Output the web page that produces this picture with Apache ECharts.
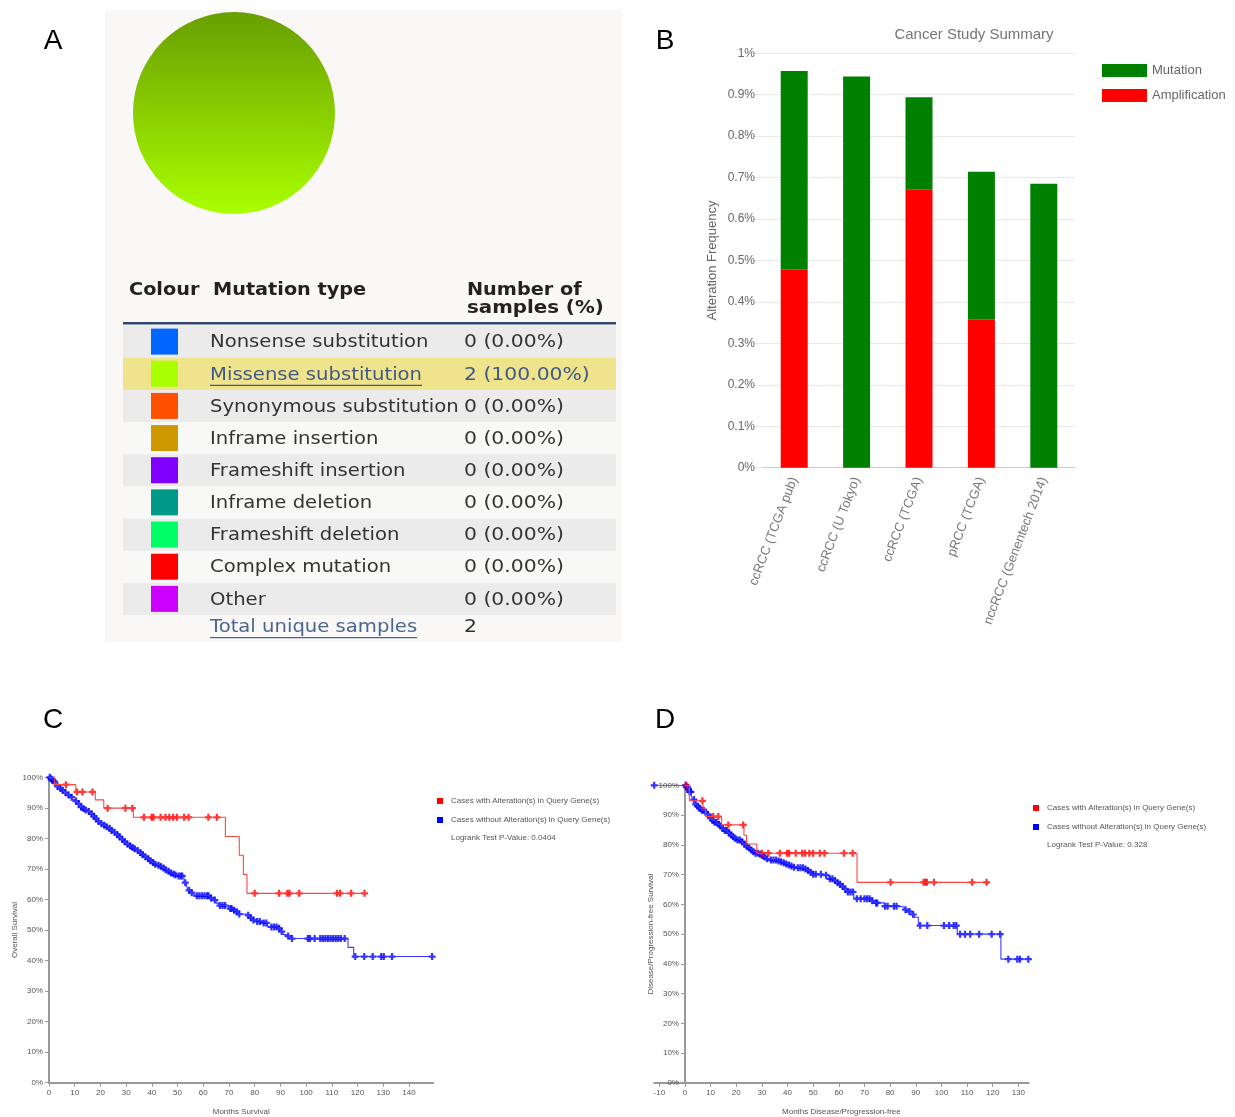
<!DOCTYPE html>
<html><head><meta charset="utf-8">
<script src="https://cdn.jsdelivr.net/npm/echarts@6/dist/echarts.min.js"></script>
<style>html,body{margin:0;padding:0;background:#fff}#c{width:1235px;height:1117px}</style>
</head><body><div id="c"></div>
<script>
// ---------------- Panel A data ----------------
const mutTypes = ['Nonsense substitution','Missense substitution','Synonymous substitution','Inframe insertion','Frameshift insertion','Inframe deletion','Frameshift deletion','Complex mutation','Other'];
const mutColours = ['#0066ff','#aaff00','#ff5000','#cc9900','#7f00ff','#009988','#00ff66','#ff0000','#cc00ff'];
const mutCounts = [0,2,0,0,0,0,0,0,0];
const highlightedType = 'Missense substitution';
const totalSamples = 2;

// ---------------- Panel B data ----------------
const studies = ['ccRCC (TCGA pub)','ccRCC (U Tokyo)','ccRCC (TCGA)','pRCC (TCGA)','nccRCC (Genentech 2014)'];
const amplificationPct = [0.479, 0, 0.672, 0.358, 0];
const mutationPct = [0.478, 0.944, 0.222, 0.356, 0.685];

// ---------------- Panel C data (Overall survival) ----------------
const osAltSteps = [[0,100],[2.2,97.6],[10.4,95.2],[18,92.6],[21.3,89.9],[32.8,86.9],[68.6,80.6],[74,74.5],[75.6,68.2],[77,62]];
const osAltCensor = [6.6,10.9,13,16.9,22.8,29.7,32.4,36.9,39.9,40.6,43.4,45.3,46.8,48.3,49.8,52.5,54.3,62,65.3,80,89.5,92.7,93.5,97.3,112,113.2,117.5,122.7];
const osUnaltSteps = [[0,100],[0.5,99.5],[1,99],[2,98.5],[2.5,97.8],[3,97],[4,96.3],[5,95.8],[6,95],[7,94.2],[8,93.5],[9,92.7],[10,92.2],[11,91.3],[12,90.2],[13,89.8],[14,89.3],[15,88.8],[16,88],[17,87.2],[18,86.5],[19,85.6],[20,84.8],[21,84.3],[22,83.8],[23,83.3],[24,82.6],[25,82],[26,81.2],[27,80.5],[28,79.7],[29,78.9],[30,78.2],[31,77.5],[32,77],[33,76.6],[34,76],[35,75.3],[36,74.6],[37,74],[38,73.3],[39,72.7],[40,72.1],[41,71.5],[42,71.2],[43,70.8],[44,70.3],[45,69.7],[46,69.2],[47,68.7],[48,68.3],[49,68],[50,67.7],[52.5,65.5],[53.5,64.5],[54,63],[55,62.2],[56,61.5],[57,61.2],[62.5,60.5],[63.5,59.8],[65,58.8],[66,58],[69,57.7],[70,57],[71.5,56.5],[72.5,56],[73.5,55.2],[77,54.8],[78,54],[79,53.3],[80,52.8],[83,52.3],[85,51],[89,50.6],[90,49.5],[91,48.5],[92,48],[94,47.2],[116.3,44.3],[118.5,41.3]];
const osUnaltCensor = [0.3,0.8,1.2,1.6,2.2,3.3,4.5,5.3,6.4,7.6,8.8,10.5,11.6,12.5,13.4,14.2,15.5,16.6,17.5,18.3,19.2,20.4,21.5,22.4,23.6,24.3,25.5,26.6,27.4,28.5,29.4,30.5,31.6,32.5,33.3,34.5,35.6,36.4,37.5,38.6,39.4,40.5,41.3,42.6,43.5,44.6,45.4,46.5,47.4,48.5,49.2,50.4,51.2,51.8,53,54.5,55.5,57.5,58.5,59.5,60.5,61.5,62,63,64.5,66.5,67.5,68.5,70.5,71,72,73,74,77.5,78.5,79.5,81,82,83.5,84.5,86.5,87.5,88.5,89.5,90.5,93,94.5,100.7,101.5,103.3,105.5,106.5,107.5,108.5,109.5,110.5,111.5,112.5,113.5,115,119.1,122.6,125.9,129.2,130.2,133.4,149];

// ---------------- Panel D data (Disease/Progression-free survival) ----------------
const dfsAltSteps = [[0,100],[1.7,94.8],[7,92.1],[8,89.5],[14.3,86.7],[23,83.2],[24,80.3],[28,77.2],[67.1,67.4]];
const dfsAltCensor = [0.5,6.8,11,13,16.9,22.7,30,32.5,37,39.8,40.6,43.2,45.7,46.8,48.5,50,52.6,54.4,62,65.4,80.2,93.1,93.8,94.3,97.1,112,117.6];
const dfsUnaltSteps = [[0,100],[0.6,99.4],[1.2,98.6],[1.8,97.8],[2.4,96.8],[3,95.2],[3.6,93.6],[4.5,93],[5.5,92.3],[6.5,91.6],[7.5,91],[8.5,90.2],[9.5,89],[10.5,88.2],[11.5,87.6],[12.5,86.9],[13.5,86.3],[14.5,85.6],[15.5,84.8],[16.5,84],[17.5,83.3],[18.5,82.7],[19.5,82.2],[20.5,81.6],[21.5,81],[22.5,80.2],[23.5,79.5],[24.5,78.9],[25.5,78.3],[26.5,77.7],[27.5,77.2],[28.5,76.8],[29.5,76.4],[30.5,75.9],[31.5,75.3],[32.5,74.9],[36,74.6],[37,74.3],[38.2,74],[39.2,73.6],[40.2,73.2],[41.5,72.9],[42.5,72.5],[43.5,72.3],[46.5,71.9],[47.5,71.4],[48.3,70.8],[49.2,70.1],[53.5,69.8],[55.5,69.2],[56.5,68.6],[57.8,68],[59,67.3],[60,66.8],[61,66],[62,65.2],[63,64.2],[65.8,61.9],[72.5,61.2],[74,60.5],[77.8,59.4],[83.5,59.1],[85.5,58.2],[87.5,57.6],[88.5,56.6],[89.5,55.7],[91,52.9],[106.2,50],[123.2,41.6]];
const dfsUnaltCensor = [-12,0.2,0.6,1,1.4,1.8,2.3,3.5,4.2,5,5.7,6.5,7.3,8,9,10,10.8,11.5,12.3,13.1,13.8,14.7,15.5,16.3,17.2,18,18.8,19.6,20.5,21.4,22.3,23.2,24.1,25,25.8,26.7,27.5,28.4,29.3,30.2,31,32,33.5,34.5,35.5,36.5,37.5,38.5,39.5,40.5,41.5,42.5,44,45,46,47,48,49,50,51,53,55,56.5,57.5,58.5,59.5,60.5,61.5,62.5,63.5,64.5,65.5,67,68.5,70,71,72,73,74.5,75,78,79,81.5,82.5,86,87.5,89,91.7,94.5,101,103,104.8,105.8,107.3,109.2,111.2,114.7,119.6,122.9,126.1,129.6,130.6,133.9];

const osPValue = '0.0404';
const dfsPValue = '0.328';
const altName = 'Cases with Alteration(s) in Query Gene(s)';
const unaltName = 'Cases without Alteration(s) in Query Gene(s)';
const monthTicksC = [0,10,20,30,40,50,60,70,80,90,100,110,120,130,140];
const monthTicksD = [-10,0,10,20,30,40,50,60,70,80,90,100,110,120,130];
const monthRangeC = [0, 149.5];
const monthRangeD = [-12, 134];

// ---------------- helpers ----------------
function kmCurve(steps, censor) {
  const survAt = t => { let s = steps[0][1]; for (const [x, y] of steps) { if (x <= t) s = y; else break; } return s; };
  const start = Math.min(steps[0][0], ...censor);
  const end = Math.max(steps[steps.length - 1][0], ...censor);
  const line = [];
  if (start < steps[0][0]) line.push([start, steps[0][1]]);
  steps.forEach(p => line.push(p));
  line.push([end, steps[steps.length - 1][1]]);
  return { line, marks: censor.map(t => [t, survAt(t)]) };
}
function shade(hex, f) {
  const n = parseInt(hex.slice(1), 16);
  const r = Math.round(((n >> 16) & 255) * f), g = Math.round(((n >> 8) & 255) * f), b = Math.round((n & 255) * f);
  return 'rgb(' + r + ',' + g + ',' + b + ')';
}
const measureCtx = document.createElement('canvas').getContext('2d');
function textWidth(str, font) { measureCtx.font = font; return measureCtx.measureText(str).width; }

const sansFont = '"Liberation Sans", Arial, sans-serif';
const tableFont = '"DejaVu Sans", Verdana, sans-serif';
const plusPath = 'path://M3.4,0H6.6V3.4H10V6.6H6.6V10H3.4V6.6H0V3.4H3.4Z';

const osAlt = kmCurve(osAltSteps, osAltCensor);
const osUnalt = kmCurve(osUnaltSteps, osUnaltCensor);
const dfsAlt = kmCurve(dfsAltSteps, dfsAltCensor);
const dfsUnalt = kmCurve(dfsUnaltSteps, dfsUnaltCensor);

// ---------------- Panel A table graphics ----------------
const graphics = [];
graphics.push({ type: 'rect', z: -5, shape: { x: 105, y: 10, width: 517, height: 632 }, style: { fill: '#f9f8f6' }, silent: true });
const hdrFont = 'bold 18px ' + tableFont;
const hdrScale = 1.07;
const addText = (x, y, text, font, fill, sx) => graphics.push({ type: 'text', z: 10, x, y, scaleX: sx || 1, style: { text, font, fill, textVerticalAlign: 'middle' } });
addText(129, 290, 'Colour', hdrFont, '#222', hdrScale);
addText(213, 290, 'Mutation type', hdrFont, '#222', hdrScale);
addText(467, 290, 'Number of', hdrFont, '#222', hdrScale);
addText(467, 308, 'samples (%)', hdrFont, '#222', 1.1);
graphics.push({ type: 'rect', z: 10, shape: { x: 123, y: 322, width: 493, height: 2.5 }, style: { fill: '#34476b' } });
const rowFont = '18px ' + tableFont;
const rowScale = 1.09;
const numScale = 1.13;
const rowH = 32.16;
mutTypes.forEach((name, i) => {
  const top = 325.6 + i * rowH;
  const hi = name === highlightedType;
  const bg = hi ? '#efe48c' : (i % 2 === 0 ? '#ebebeb' : '#f8f8f7');
  graphics.push({ type: 'rect', z: 1, shape: { x: 123, y: top, width: 493, height: rowH }, style: { fill: bg } });
  graphics.push({ type: 'rect', z: 2, shape: { x: 151, y: top + 3, width: 27, height: 26 }, style: { fill: mutColours[i] } });
  const cy = top + rowH / 2 + 1;
  const col = hi ? '#3f5a86' : '#333';
  addText(210, cy, name, rowFont, col, rowScale);
  const cnt = mutCounts[i] + ' (' + (mutCounts[i] / totalSamples * 100).toFixed(2) + '%)';
  addText(464, cy, cnt, rowFont, col, numScale);
  if (hi) {
    graphics.push({ type: 'rect', z: 10, shape: { x: 210, y: cy + 10, width: textWidth(name, rowFont) * rowScale, height: 1.2 }, style: { fill: col } });
  }
});
const totalLabel = 'Total unique samples';
addText(210, 627, totalLabel, rowFont, '#4a6590', rowScale);
graphics.push({ type: 'rect', z: 10, shape: { x: 210, y: 637, width: textWidth(totalLabel, rowFont) * rowScale, height: 1.2 }, style: { fill: '#4a6590' } });
addText(464, 627, String(totalSamples), rowFont, '#333', numScale);

// panel letters
[['A', 53, 41], ['B', 665, 41], ['C', 53, 720], ['D', 665, 720]].forEach(([t, x, y]) => {
  graphics.push({ type: 'text', z: 10, x, y, style: { text: t, font: '28px ' + sansFont, fill: '#000', textAlign: 'center', textVerticalAlign: 'middle' } });
});
// logrank texts
addText(451, 838, 'Logrank Test P-Value: ' + osPValue, '8px ' + sansFont, '#555');
addText(1047, 845, 'Logrank Test P-Value: ' + dfsPValue, '8px ' + sansFont, '#555');

// ---------------- axes helpers ----------------
const kmAxisLine = { lineStyle: { color: '#999', width: 2 } };
const kmLabel = { fontSize: 8, color: '#555', fontFamily: sansFont };
function kmXAxis(grid, range, ticks, name) {
  return {
    type: 'value', gridIndex: grid, min: range[0], max: range[1], name, nameLocation: 'middle', nameGap: 25,
    nameTextStyle: { fontSize: 8, color: '#555', fontFamily: sansFont },
    axisLine: kmAxisLine, splitLine: { show: false },
    axisTick: { length: 4, lineStyle: { color: '#999' }, customValues: ticks },
    axisLabel: Object.assign({ margin: 6, customValues: ticks }, kmLabel)
  };
}
function kmYAxis(grid, name, gap, offset) {
  return {
    type: 'value', gridIndex: grid, min: 0, max: 100, interval: 10, name, nameLocation: 'middle', nameGap: gap, offset,
    nameTextStyle: { fontSize: 8, color: '#555', fontFamily: sansFont },
    axisLine: Object.assign({ onZero: false }, kmAxisLine), splitLine: { show: false },
    axisTick: { length: 4, lineStyle: { color: '#999' } },
    axisLabel: Object.assign({ margin: 6, formatter: '{value}%' }, kmLabel)
  };
}
function kmSeries(name, curve, color, lineColor, ax) {
  return [
    { type: 'line', name, xAxisIndex: ax, yAxisIndex: ax, data: curve.line, step: 'end', showSymbol: false, symbol: 'none',
      lineStyle: { color: lineColor, width: 1.1 }, itemStyle: { color }, animation: false, silent: true },
    { type: 'scatter', name, xAxisIndex: ax, yAxisIndex: ax, data: curve.marks, symbol: plusPath, symbolSize: 7,
      itemStyle: { color }, animation: false, silent: true }
  ];
}
const gridD = { left: 654.2, top: 785.3, width: 374.4, height: 298 };
// y axis of panel D sits at month 0
const yOffsetD = -(0 - monthRangeD[0]) / (monthRangeD[1] - monthRangeD[0]) * gridD.width;

const option = {
  animation: false,
  backgroundColor: '#fff',
  title: { text: 'Cancer Study Summary', left: 969, top: 22, textAlign: 'center',
    textStyle: { fontSize: 15, fontWeight: 'normal', color: '#757575', fontFamily: sansFont } },
  legend: [
    { data: ['Mutation', 'Amplification'], orient: 'vertical', left: 1097, top: 59, icon: 'rect', itemWidth: 45, itemHeight: 13, itemGap: 12,
      textStyle: { fontSize: 13, color: '#666', fontFamily: sansFont } },
    { data: [altName, unaltName], orient: 'vertical', left: 432, top: 791, icon: 'rect', itemWidth: 6, itemHeight: 6, itemGap: 9,
      textStyle: { fontSize: 8, color: '#555', fontFamily: sansFont, lineHeight: 10, padding: [0, 0, 0, 3] } },
    { data: [altName, unaltName], orient: 'vertical', left: 1028, top: 798, icon: 'rect', itemWidth: 6, itemHeight: 6, itemGap: 9,
      textStyle: { fontSize: 8, color: '#555', fontFamily: sansFont, lineHeight: 10, padding: [0, 0, 0, 3] } }
  ],
  grid: [
    { left: 763, top: 53.3, width: 312, height: 414.4 },
    { left: 49, top: 777.3, width: 384.4, height: 305.4 },
    gridD
  ],
  xAxis: [
    { type: 'category', gridIndex: 0, data: studies,
      axisLine: { lineStyle: { color: '#ccc', width: 1 } }, axisTick: { show: false },
      axisLabel: { rotate: 69, interval: 0, fontSize: 13, color: '#777', margin: 10, fontFamily: sansFont } },
    kmXAxis(1, monthRangeC, monthTicksC, 'Months Survival'),
    kmXAxis(2, monthRangeD, monthTicksD, 'Months Disease/Progression-free')
  ],
  yAxis: [
    { type: 'value', gridIndex: 0, min: 0, max: 1, interval: 0.1, name: 'Alteration Frequency', nameLocation: 'middle', nameGap: 44,
      nameTextStyle: { fontSize: 13, color: '#666', fontFamily: sansFont },
      axisLine: { show: false }, axisTick: { show: true, length: 10, lineStyle: { color: '#e8e8e8' } },
      splitLine: { lineStyle: { color: '#e8e8e8' } },
      axisLabel: { fontSize: 12, color: '#666', margin: 8, fontFamily: sansFont, formatter: v => (+v.toFixed(1)) + '%' } },
    kmYAxis(1, 'Overall Survival', 30, 0),
    kmYAxis(2, 'Disease/Progression-free Survival', 30, yOffsetD)
  ],
  series: [
    { type: 'pie', center: [234, 113], radius: 101, silent: true, label: { show: false }, labelLine: { show: false }, z: 3,
      data: mutTypes.map((n, i) => ({ name: n, value: mutCounts[i],
        itemStyle: { color: new echarts.graphic.LinearGradient(0, 0, 0, 1, [{ offset: 0, color: shade(mutColours[i], 0.62) }, { offset: 1, color: mutColours[i] }]) } })) },
    { type: 'bar', name: 'Amplification', stack: 'freq', xAxisIndex: 0, yAxisIndex: 0, data: amplificationPct, barWidth: 27, itemStyle: { color: '#ff0000' } },
    { type: 'bar', name: 'Mutation', stack: 'freq', xAxisIndex: 0, yAxisIndex: 0, data: mutationPct, barWidth: 27, itemStyle: { color: '#008000' } },
    ...kmSeries(unaltName, osUnalt, '#0000ff', '#3a3aff', 1),
    ...kmSeries(altName, osAlt, '#ff0000', '#ff4444', 1),
    ...kmSeries(unaltName, dfsUnalt, '#0000ff', '#3a3aff', 2),
    ...kmSeries(altName, dfsAlt, '#ff0000', '#ff4444', 2)
  ],
  graphic: { elements: graphics }
};
const chart = echarts.init(document.getElementById('c'), null, { renderer: 'canvas' });
chart.setOption(option);
</script>
</body></html>
